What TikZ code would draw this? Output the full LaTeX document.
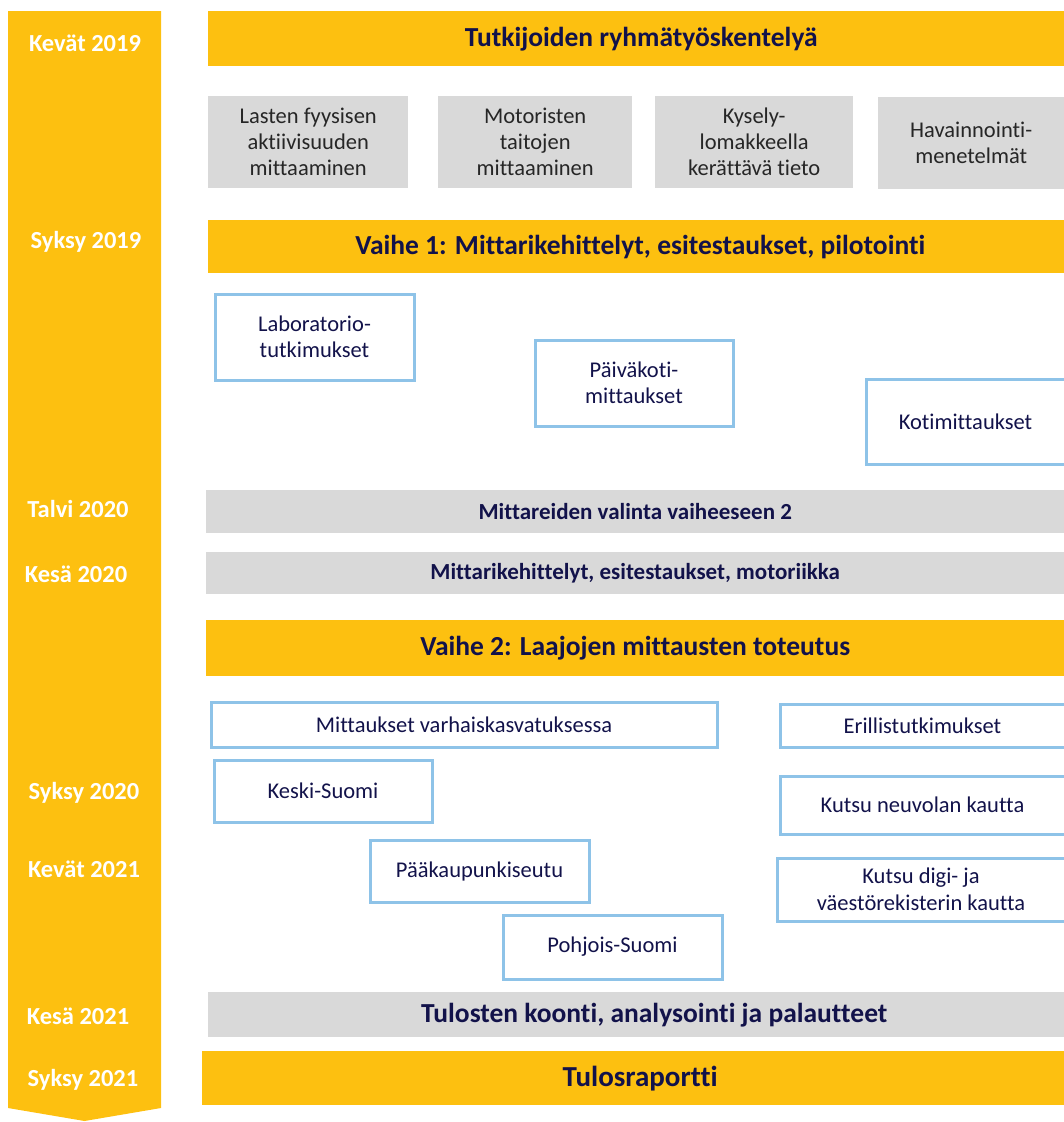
\documentclass[tikz,border=0pt]{standalone}
\usepackage{fontspec}
\setmainfont{Carlito}[Ligatures=NoCommon]
\definecolor{amber}{HTML}{FDC010}
\definecolor{lightgray}{HTML}{D9D9D9}
\definecolor{skyblue}{HTML}{8EC3E8}
\definecolor{navy}{HTML}{12124A}
\definecolor{darktext}{HTML}{262626}

\begin{document}
\begin{tikzpicture}[x=1pt,y=-1pt,
    bar/.style={inner sep=0pt,anchor=north west,font=\bfseries\fontsize{27.5}{31}\selectfont,text=navy},
    yellowbar/.style={bar,fill=amber},
    graybar/.style={bar,fill=lightgray,font=\bfseries\fontsize{23}{27}\selectfont},
    topic/.style={inner sep=0pt,anchor=north west,fill=lightgray,text=darktext,align=center,
      font=\fontsize{22.5}{26}\selectfont},
    bluebox/.style={inner sep=0pt,anchor=north west,draw=skyblue,line width=3pt,text=navy,
      align=center,font=\fontsize{22.5}{26.5}\selectfont},
    period/.style={text=white,font=\bfseries\fontsize{24.5}{28}\selectfont}]
  \useasboundingbox (0,0) rectangle (1064,1122);

  % time arrow
  \fill[amber] (8,11) -- (161,11) -- (161,1108) -- (84.5,1121) -- (8,1108) -- cycle;
  \node[period] (k19) at (85,43) {Kevät 2019};
  \node[period] (s19) at (86,242) {Syksy 2019};
  \node[period] (t20) at (78,509) {Talvi 2020};
  \node[period] (ke20) at (76,574) {Kesä 2020};
  \node[period] (s20) at (84,793) {Syksy 2020};
  \node[period] (k21) at (84,869) {Kevät 2021};
  \node[period] (ke21) at (78,1016) {Kesä 2021};
  \node[period] (s21) at (83,1080) {Syksy 2021};

  % group work
  \node[yellowbar,minimum width=856,minimum height=55] (work) at (208,11) {\hspace*{10pt}Tutkijoiden ryhmätyöskentelyä};
  \node[topic,minimum width=200,minimum height=92] (activity) at (208,96)
    {Lasten fyysisen\\aktiivisuuden\\mittaaminen};
  \node[topic,minimum width=194,minimum height=92] (motor) at (438,96)
    {Motoristen\\taitojen\\mittaaminen};
  \node[topic,minimum width=198,minimum height=92] (survey) at (655,96)
    {Kysely-\\lomakkeella\\kerättävä tieto};
  \node[topic,minimum width=186,minimum height=92] (observe) at (878,97)
    {Havainnointi-\\menetelmät};

  % phase 1
  \node[yellowbar,minimum width=856,minimum height=53] (phase1) at (208,220)
    {\hspace*{8pt}Vaihe 1: Mittarikehittelyt, esitestaukset, pilotointi};
  \node[bluebox,minimum width=199,minimum height=86] (lab) at (213.5,292.5)
    {Laboratorio-\\tutkimukset};
  \node[bluebox,minimum width=198,minimum height=86] (daycare) at (533.5,338.5)
    {Päiväkoti-\\mittaukset};
  \node[bluebox,minimum width=199,minimum height=85] (home) at (864.5,377.5) {Kotimittaukset};

  \node[graybar,minimum width=858,minimum height=43] (select) at (206,490)
    {Mittareiden valinta vaiheeseen 2};
  \node[graybar,minimum width=858,minimum height=42] (motorics) at (206,552)
    {Mittarikehittelyt, esitestaukset, motoriikka};

  % phase 2
  \node[yellowbar,minimum width=858,minimum height=56] (phase2) at (206,620)
    {Vaihe 2: Laajojen mittausten toteutus};
  \node[bluebox,minimum width=506,minimum height=45] (ecec) at (209.5,700.5)
    {Mittaukset varhaiskasvatuksessa};
  \node[bluebox,minimum width=285,minimum height=43] (separate) at (778.5,702.5) {Erillistutkimukset};
  \node[bluebox,minimum width=218,minimum height=62] (central) at (212.5,758.5) {Keski-Suomi};
  \node[bluebox,minimum width=285,minimum height=58] (clinic) at (778.5,774.5) {Kutsu neuvolan kautta};
  \node[bluebox,minimum width=219,minimum height=62] (capital) at (368.5,838.5) {Pääkaupunkiseutu};
  \node[bluebox,minimum width=288,minimum height=63] (registry) at (775.5,856.5)
    {Kutsu digi- ja\\väestörekisterin kautta};
  \node[bluebox,minimum width=219,minimum height=64] (north) at (501.5,913.5) {Pohjois-Suomi};

  % results
  \node[graybar,minimum width=856,minimum height=45,font=\bfseries\fontsize{27.5}{31}\selectfont] (results) at (208,992)
    {\hspace*{36pt}Tulosten koonti, analysointi ja palautteet};
  \node[yellowbar,minimum width=862,minimum height=54,font=\bfseries\fontsize{29}{33}\selectfont] (report) at (202,1051) {\hspace*{14pt}Tulosraportti};
\end{tikzpicture}
\end{document}
